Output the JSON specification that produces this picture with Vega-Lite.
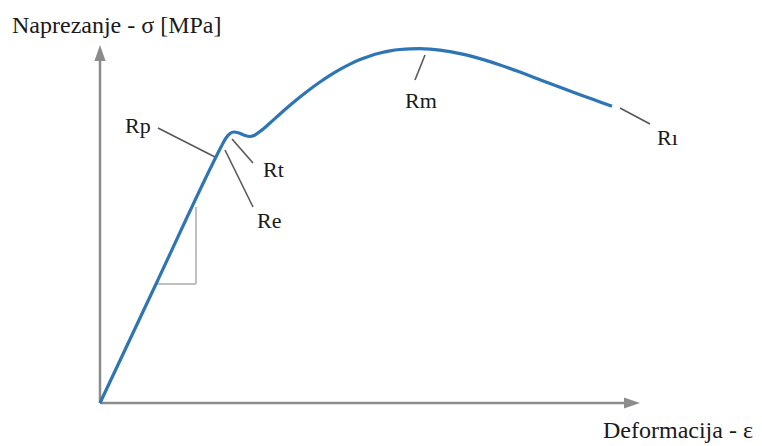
{
  "$schema": "https://vega.github.io/schema/vega-lite/v6.json",
  "width": 762,
  "height": 446,
  "padding": 0,
  "autosize": {"type": "fit", "contains": "padding"},
  "background": "white",
  "config": {"view": {"stroke": null}},
  "datasets": {
    "curve": [
      {"e": 0, "s": 0}, {"e": 56, "s": 119}, {"e": 113, "s": 240}, {"e": 121, "s": 256},
      {"e": 126, "s": 265}, {"e": 130, "s": 269.5}, {"e": 134, "s": 271}, {"e": 139, "s": 270},
      {"e": 145, "s": 267.5}, {"e": 150, "s": 266.5}, {"e": 155, "s": 268}, {"e": 160, "s": 271.5},
      {"e": 170, "s": 280}, {"e": 180, "s": 289}, {"e": 190, "s": 297.7}, {"e": 200, "s": 306},
      {"e": 210, "s": 313.8}, {"e": 220, "s": 321}, {"e": 230, "s": 327.6}, {"e": 240, "s": 333.6},
      {"e": 250, "s": 338.9}, {"e": 260, "s": 343.4}, {"e": 270, "s": 347.1}, {"e": 280, "s": 350},
      {"e": 290, "s": 352.1}, {"e": 300, "s": 353.5}, {"e": 310, "s": 354.2}, {"e": 320, "s": 354.3},
      {"e": 330, "s": 353.8}, {"e": 340, "s": 352.8}, {"e": 350, "s": 351.3}, {"e": 360, "s": 349.4},
      {"e": 370, "s": 347.1}, {"e": 380, "s": 344.4}, {"e": 390, "s": 341.4}, {"e": 400, "s": 338.1},
      {"e": 420, "s": 330.9}, {"e": 440, "s": 323.3}, {"e": 460, "s": 315.7}, {"e": 480, "s": 308.3},
      {"e": 500, "s": 301.1}, {"e": 512, "s": 296.8}
    ],
    "axes": [
      {"e": 0, "s": 0, "e2": 0, "s2": 346},
      {"e": 0, "s": 0, "e2": 526, "s2": 0}
    ],
    "arrows": [
      {"e": 0, "s": 350, "dir": "up"},
      {"e": 532, "s": 0, "dir": "right"}
    ],
    "triangle": [
      {"e": 57, "s": 119, "e2": 96, "s2": 119},
      {"e": 96, "s": 119, "e2": 96, "s2": 196}
    ],
    "leaders": [
      {"name": "Rp", "e": 58, "s": 275, "e2": 115, "s2": 246},
      {"name": "Re", "e": 125, "s": 253, "e2": 153, "s2": 196},
      {"name": "Rt", "e": 132, "s": 264, "e2": 153, "s2": 240},
      {"name": "Rm", "e": 325, "s": 348, "e2": 315, "s2": 323},
      {"name": "Rı", "e": 520, "s": 295, "e2": 550, "s2": 279}
    ],
    "labels": [
      {"label": "Rp", "e": 25, "s": 270},
      {"label": "Rt", "e": 163, "s": 226},
      {"label": "Re", "e": 157, "s": 175},
      {"label": "Rm", "e": 305, "s": 295},
      {"label": "Rı", "e": 557, "s": 258}
    ],
    "titles": [
      {"label": "Naprezanje - σ [MPa]", "e": -88, "s": 370},
      {"label": "Deformacija - ε", "e": 503, "s": -35}
    ]
  },
  "encoding": {
    "x": {"field": "e", "type": "quantitative", "axis": null, "scale": {"domain": [-100, 662], "nice": false, "zero": false}},
    "y": {"field": "s", "type": "quantitative", "axis": null, "scale": {"domain": [-43, 403], "nice": false, "zero": false}}
  },
  "layer": [
    {
      "data": {"name": "axes"},
      "mark": {"type": "rule", "color": "#8c8c8c", "strokeWidth": 2.5},
      "encoding": {"x2": {"field": "e2"}, "y2": {"field": "s2"}}
    },
    {
      "data": {"name": "arrows"},
      "mark": {"type": "point", "filled": true, "color": "#8c8c8c", "opacity": 1, "size": 256},
      "encoding": {
        "shape": {"field": "dir", "type": "nominal", "legend": null,
          "scale": {"domain": ["up", "right"], "range": ["M0,-1L0.7,1L-0.7,1Z", "M1,0L-1,-0.7L-1,0.7Z"]}}
      }
    },
    {
      "data": {"name": "triangle"},
      "mark": {"type": "rule", "color": "#c0c0c0", "strokeWidth": 2},
      "encoding": {"x2": {"field": "e2"}, "y2": {"field": "s2"}}
    },
    {
      "data": {"name": "leaders"},
      "mark": {"type": "rule", "color": "#595959", "strokeWidth": 1.6},
      "encoding": {"x2": {"field": "e2"}, "y2": {"field": "s2"}}
    },
    {
      "data": {"name": "curve"},
      "mark": {"type": "line", "color": "#2E75B6", "strokeWidth": 3.2, "interpolate": "monotone"},
      "encoding": {"order": {"field": "e", "type": "quantitative"}}
    },
    {
      "data": {"name": "labels"},
      "mark": {"type": "text", "align": "left", "baseline": "alphabetic", "font": "Liberation Serif", "fontSize": 22, "color": "#1a1a1a"},
      "encoding": {"text": {"field": "label"}}
    },
    {
      "data": {"name": "titles"},
      "mark": {"type": "text", "align": "left", "baseline": "alphabetic", "font": "Liberation Serif", "fontSize": 24, "color": "#1a1a1a"},
      "encoding": {"text": {"field": "label"}}
    }
  ]
}
